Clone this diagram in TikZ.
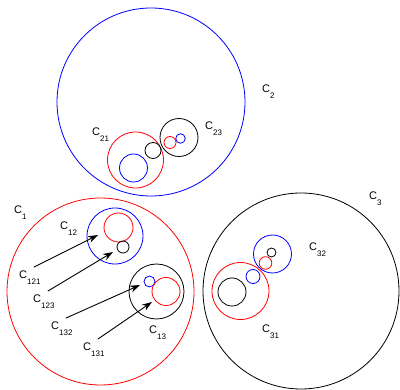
\documentclass[tikz,border=0pt]{standalone}
\usepackage{fontspec}
\setmainfont{Liberation Sans}
\usepackage{tikz}
\usetikzlibrary{arrows.meta}
\newcommand{\cname}[1]{C\raisebox{-6pt}{\fontsize{8}{8}\selectfont #1}}

\begin{document}
\begin{tikzpicture}[
  x=1pt,y=-1pt,
  font=\fontsize{11}{13}\selectfont,
  ring/.style={circle,draw,inner sep=0pt,line width=0.8pt,minimum size=#1},
  tag/.style={anchor=base west,inner sep=0pt},
  lead/.style={-{Stealth[length=10pt,width=7pt]},line width=0.9pt}
]
\useasboundingbox (0,0) rectangle (400,390);

% C_2 and its rings
\node[ring=188pt,draw=blue] (c2) at (151,102) {};
\node[ring=56pt,draw=red] (c21) at (135.5,160) {};
\node[ring=28pt,draw=blue] (c211) at (133.5,168) {};
\node[ring=16pt] (c22) at (153,150.5) {};
\node[ring=38pt] (c23) at (179,137.5) {};
\node[ring=12pt,draw=red] (c231) at (170,142.5) {};
\node[ring=9.5pt,draw=blue] (c232) at (180.5,138.5) {};

% C_1 and its rings
\node[ring=187pt,draw=red] (c1) at (100.5,291.5) {};
\node[ring=56pt,draw=blue] (c12) at (115,236) {};
\node[ring=29pt,draw=red] (c121) at (118.5,227.5) {};
\node[ring=12pt] (c123) at (123,247) {};
\node[ring=55pt] (c13) at (156.5,291.5) {};
\node[ring=11pt,draw=blue] (c132) at (149.5,281.5) {};
\node[ring=28pt,draw=red] (c131) at (166,291.5) {};

% C_3 and its rings
\node[ring=196pt] (c3) at (301,291) {};
\node[ring=57pt,draw=red] (c31) at (240.5,291) {};
\node[ring=28pt] (c311) at (232,292) {};
\node[ring=14pt,draw=blue] (c33) at (253,276.5) {};
\node[ring=38pt,draw=blue] (c32) at (272.5,254) {};
\node[ring=12.6pt,draw=red] (c321) at (265.5,263) {};
\node[ring=9pt] (c322) at (271.5,252.5) {};

% names
\foreach \id/\px/\py in {1/14/214, 2/262/93, 3/369/200, 12/60/230, 13/149/334,
    21/92/136, 23/205/130, 31/262/333, 32/309/251,
    121/19/279, 123/33/303, 132/51/330, 131/83/351} {
  \node[tag] (l\id) at (\px,\py) {\cname{\id}};
}

% arrow tips inside C_12 and C_13
\coordinate (t121) at (98,235);
\coordinate (t123) at (113,252);
\coordinate (t132) at (140,285);
\coordinate (t131) at (152,302);
\foreach \id in {121,123,132,131} {
  \draw[lead] ([shift={(4pt,4pt)}]l\id.north) -- (t\id);
}

\end{tikzpicture}
\end{document}
